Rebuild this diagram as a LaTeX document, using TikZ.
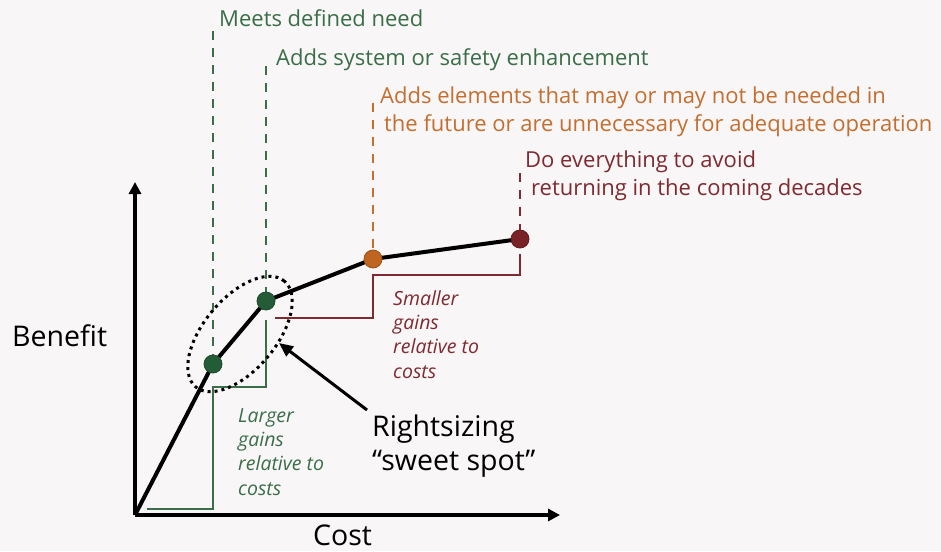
\documentclass[tikz,border=0pt]{standalone}
\usepackage{fontspec}
\setmainfont{Open Sans}
\usetikzlibrary{arrows.meta}
\definecolor{bg}{HTML}{F8F6F7}
\definecolor{gtext}{HTML}{3A6E48}
\definecolor{gdot}{HTML}{245C37}
\definecolor{otext}{HTML}{C46E30}
\definecolor{odot}{HTML}{C0651F}
\definecolor{rtext}{HTML}{7E2A30}
\definecolor{rdot}{HTML}{7A2226}
\tikzset{
  axis/.style={line width=4pt,-{Triangle[length=12pt,width=12pt]}},
  curve/.style={line width=4pt,line join=round},
  dashline/.style={line width=2.2pt,dash pattern=on 9pt off 8pt},
  stepline/.style={line width=2pt},
  dot/.style={circle,inner sep=0pt,minimum size=18pt,line width=0.8pt},
  lbl/.style={anchor=base west,inner sep=0pt,font=\fontsize{22}{24}\selectfont},
  small/.style={anchor=base west,inner sep=0pt,align=left,font=\fontsize{19.5}{24.3}\selectfont\itshape},
  big/.style={anchor=base west,inner sep=0pt,font=\fontsize{28.5}{34}\selectfont},
}
\begin{document}
\begin{tikzpicture}[x=1pt,y=-1pt]
\fill[bg] (0,0) rectangle (941,551);
\useasboundingbox (0,0) rectangle (941,551);
% axes
\coordinate (O) at (135,515);
\coordinate (ytop) at (135,182);
\coordinate (xend) at (560,515);
% steps
\draw[stepline,gtext] (147,509) -- (213,509) -- (213,387) -- (266,387) -- (266,320);
\draw[stepline,rtext] (275,318) -- (373,318) -- (373,275) -- (520,275) -- (520,254);
% dashed guides
\coordinate (t1) at (213,31);
\coordinate (t2) at (266,66);
\coordinate (t3) at (373,103);
\coordinate (t4) at (520,173);
\coordinate (q1) at (213,364);
\coordinate (q2) at (266,301);
\coordinate (q3) at (373,259);
\coordinate (q4) at (520,239);
\draw[dashline,gtext] (t1) -- (q1);
\draw[dashline,gtext] (t2) -- (q2);
\draw[dashline,otext] (t3) -- (q3);
\draw[dashline,rtext] (t4) -- (q4);
% curve
\draw[curve] (O) -- (q1) -- (q2) -- (q3) -- (q4);
\draw[axis] (O) -- (ytop);
\draw[axis] (O) -- (xend);
% dots
\node[dot,fill=gdot,draw=gdot!80!black] (p1) at (q1) {};
\node[dot,fill=gdot,draw=gdot!80!black] (p2) at (q2) {};
\node[dot,fill=odot,draw=odot!80!black] (p3) at (q3) {};
\node[dot,fill=rdot,draw=rdot!80!black] (p4) at (q4) {};
% ellipse
\draw[line width=3pt,dash pattern=on 3pt off 4pt,rotate around={50:(240,334)}] (240,334) ellipse [x radius=69pt,y radius=36pt];
% labels
\node[lbl,text=gtext] (l1) at (219,27) {Meets defined need};
\node[lbl,text=gtext] (l2) at (276,66) {Adds system or safety enhancement};
\node[lbl,text=otext] (l3a) at (380,103) {Adds elements that may or may not be needed in};
\node[lbl,text=otext] (l3b) at (384,131) {the future or are unnecessary for adequate operation};
\node[lbl,text=rtext] (l4a) at (525,167) {Do everything to avoid};
\node[lbl,text=rtext] (l4b) at (531,195) {returning in the coming decades};
\node[small,text=gtext] (lg) at (238,495) {Larger\\gains\\relative to\\costs};
\node[small,text=rtext] (lr) at (393,378) {Smaller\\gains\\relative to\\costs};
\node[big] (ben) at (12,346) {Benefit};
\node[big] (cost) at (313,545) {Cost};
\node[big,align=left] (rs) at (372,470) {Rightsizing\\\textquotedblleft sweet spot\textquotedblright};
\coordinate (atail) at (367,410);
\coordinate (ahead) at (279,343);
\draw[line width=3pt,-{Triangle[length=14pt,width=12pt]}] (atail) -- (ahead);
\end{tikzpicture}
\end{document}
